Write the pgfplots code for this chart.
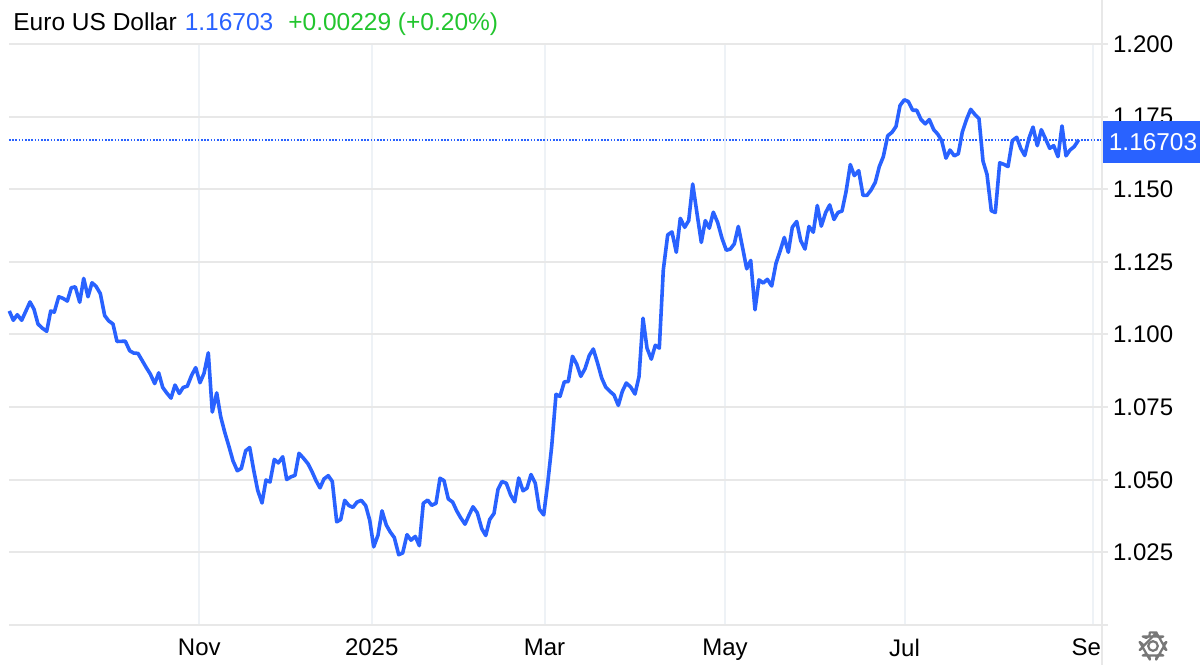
\documentclass[border=0pt]{standalone}
\usepackage{pgfplots}
\pgfplotsset{compat=1.18}
\usepackage{fontspec}
\setmainfont{Liberation Sans}
\definecolor{eurblue}{HTML}{2962FF}
\definecolor{upgreen}{HTML}{22C52E}
\definecolor{hgrid}{HTML}{E8E8E8}
\definecolor{vgrid}{HTML}{EEF2F6}
\definecolor{gearc}{HTML}{777777}
% 1 image pixel = 0.5pt
\pgfplotstableread{
x y
9.3 1.1081
13.3 1.1049
17.3 1.1068
21.7 1.1049
30 1.1112
34 1.1087
38 1.1036
42.3 1.1022
46.7 1.1011
50.7 1.1081
54.3 1.1077
58.7 1.1130
63.3 1.1124
67.3 1.1115
71.3 1.1161
75.3 1.1164
79.7 1.1111
83.7 1.1193
88 1.1130
92 1.1178
96 1.1166
100.3 1.1141
104.7 1.1065
108.7 1.1047
113 1.1036
117 1.0976
125.3 1.0977
129.7 1.0944
133.7 1.0936
138 1.0935
146.3 1.0886
150.3 1.0864
154.7 1.0831
158.7 1.0868
162.7 1.0818
166.7 1.0799
171 1.0781
175 1.0826
179.3 1.0797
183.3 1.0818
187.3 1.0822
191.7 1.0860
195.7 1.0886
200 1.0834
204 1.0866
208.3 1.0937
212.3 1.0733
216.7 1.0799
220.7 1.0717
224.7 1.0664
229 1.0614
233 1.0565
237.3 1.0531
241.3 1.0539
245.7 1.0600
249.7 1.0611
253.7 1.0533
257.7 1.0464
262 1.0420
266 1.0499
270 1.0492
274.3 1.0570
278.3 1.0558
282.7 1.0579
286.7 1.0501
291 1.0510
295 1.0515
299 1.0591
303.3 1.0575
308 1.0555
312 1.0528
316 1.0497
320 1.0472
324 1.0503
328.3 1.0514
332.3 1.0494
336.7 1.0355
340.7 1.0363
344.7 1.0429
349 1.0411
353 1.0405
357 1.0423
361.3 1.0429
365.7 1.0411
369.7 1.0361
373.7 1.0269
378 1.0309
382 1.0393
386.3 1.0344
390.3 1.0320
394.3 1.0301
398.7 1.0242
402.7 1.0248
407 1.0311
411 1.0292
415.3 1.0305
419.3 1.0273
423.3 1.0419
427.7 1.0430
431.7 1.0412
436 1.0419
440 1.0505
444 1.0497
448.3 1.0434
452.7 1.0423
456.7 1.0393
460.7 1.0369
465 1.0347
469 1.0378
473 1.0407
477.3 1.0386
481.7 1.0332
485.7 1.0308
489.7 1.0363
494 1.0384
498 1.0467
502 1.0494
506.3 1.0488
510.7 1.0447
514.7 1.0424
518.7 1.0506
523 1.0462
527 1.0471
531 1.0518
535.3 1.0488
539.3 1.0399
543.7 1.0379
547.7 1.0488
551.7 1.0615
556 1.0794
560 1.0787
564.3 1.0837
568.3 1.0838
572.5 1.0925
576.7 1.0898
580.8 1.0856
585 1.0882
589.3 1.0928
593.3 1.0950
597.7 1.0900
601.7 1.0850
605.7 1.0819
610 1.0804
614 1.0792
618.3 1.0756
622.3 1.0804
626.3 1.0833
630.7 1.0819
635 1.0795
639 1.0855
643 1.1056
647 1.0953
651.3 1.0915
655.3 1.0963
659.3 1.0953
663.3 1.1222
667.7 1.1343
672 1.1353
676.3 1.1283
680.3 1.1400
684.7 1.1369
688.7 1.1392
692.7 1.1518
697 1.1417
701.3 1.1317
705.3 1.1392
709.3 1.1366
713.3 1.1421
717.7 1.1385
722 1.1331
726.3 1.1290
730.3 1.1294
734.3 1.1312
738.3 1.1372
742.7 1.1297
746.7 1.1226
750.7 1.1255
755 1.1085
759 1.1188
763.3 1.1177
767.3 1.1190
771.7 1.1167
776 1.1245
780 1.1286
784.3 1.1334
788.3 1.1283
792.3 1.1369
796.7 1.1389
800.7 1.1323
805 1.1294
809 1.1372
813.3 1.1352
817.3 1.1444
821.3 1.1373
825.7 1.1420
829.7 1.1446
834 1.1396
838 1.1420
842 1.1425
846 1.1491
850.3 1.1585
854.3 1.1547
858.7 1.1564
863 1.1479
867 1.1479
871 1.1497
875.3 1.1524
879.3 1.1578
883.3 1.1612
887.7 1.1684
892 1.1696
896 1.1716
900 1.1788
904.3 1.1808
908.3 1.1802
912.7 1.1772
916.7 1.1772
921 1.1740
925.3 1.1725
929.3 1.1740
933.7 1.1705
937.7 1.1690
941.7 1.1667
946 1.1607
950 1.1635
954.3 1.1615
958.3 1.1622
962.3 1.1697
966.7 1.1742
970.7 1.1775
974.7 1.1758
979 1.1743
983 1.1597
987 1.1551
991.3 1.1426
995.3 1.1420
999.7 1.1591
1003.7 1.1586
1008 1.1578
1012.3 1.1667
1016.7 1.1679
1020.7 1.1641
1024.7 1.1616
1029 1.1676
1033 1.1714
1037.3 1.1650
1041.3 1.1705
1045.7 1.1672
1049.7 1.1641
1053.7 1.1650
1058 1.1612
1062 1.1718
1066 1.1615
1070 1.1635
1074.3 1.1647
1078.7 1.16703
}\eurusd
\begin{document}
\begin{tikzpicture}
\useasboundingbox (-4.5pt,-20pt) rectangle (595.5pt,312.5pt);
\begin{axis}[
  scale only axis, width=546pt, height=290.5pt,
  xmin=9, xmax=1101, ymin=1, ymax=1.2,
  clip=false,
  axis line style={draw=none},
  font=\fontsize{12}{14}\selectfont,
  xtick={199.3,371.7,544.5,725,904.5,1093},
  xticklabels={Nov,2025,Mar,May,Jul,Sep},
  xtick style={draw=none},
  ymajorgrids, xmajorgrids,
  y grid style={hgrid,line width=1pt},
  x grid style={vgrid,line width=1pt},
  ytick={1,1.025,1.05,1.075,1.1,1.125,1.15,1.175,1.2},
  yticklabels={,1.025,1.050,1.075,1.100,1.125,1.150,1.175,1.200},
  ytick pos=right, yticklabel pos=right,
  ytick style={hgrid,line width=1pt},
  tick align=outside, major tick length=3.5pt,
  yticklabel style={xshift=-1pt},
]
\addplot[eurblue,line width=0.8pt,dash pattern=on 0.8pt off 0.8pt] coordinates {(9,1.16703) (1101,1.16703)};
\addplot[eurblue,line width=1.8pt,line join=round] table[x=x,y=y] {\eurusd};
\node[anchor=base west,inner sep=0pt,font=\fontsize{12.25}{14}\selectfont] at (axis cs:13,1.2045)
  {Euro US Dollar\hspace{4pt}\textcolor{eurblue}{1.16703}\hspace{7.5pt}\textcolor{upgreen}{+0.00229 (+0.20\%)}};
\end{axis}
% cover the end of the clipped Sep label, then the price axis line
\fill[white] (546.5pt,-20pt) rectangle (595.5pt,-2.5pt);
\draw[hgrid,line width=1pt] (546.25pt,-20pt) -- (546.25pt,312.5pt);
% last price tag
\fill[eurblue] (547pt,231pt) rectangle (595.5pt,252pt);
\node[white,font=\fontsize{12.2}{14}\selectfont,anchor=center,inner sep=0pt] at (572pt,241.3pt) {1.16703};
% settings gear
\draw[gearc,line width=1.1pt,line join=round,shift={(572pt,-10.5pt)}]
  (75:7pt) \foreach \a in {90,30,-30,-90,-150,-210} {
    -- (\a+13:7pt) -- (\a+20:5.3pt) -- (\a+40:5.3pt) -- (\a+47:7pt)
  } -- cycle;
\draw[gearc,line width=1.1pt] (572pt,-10.5pt) circle (2.4pt);
\end{tikzpicture}
\end{document}
